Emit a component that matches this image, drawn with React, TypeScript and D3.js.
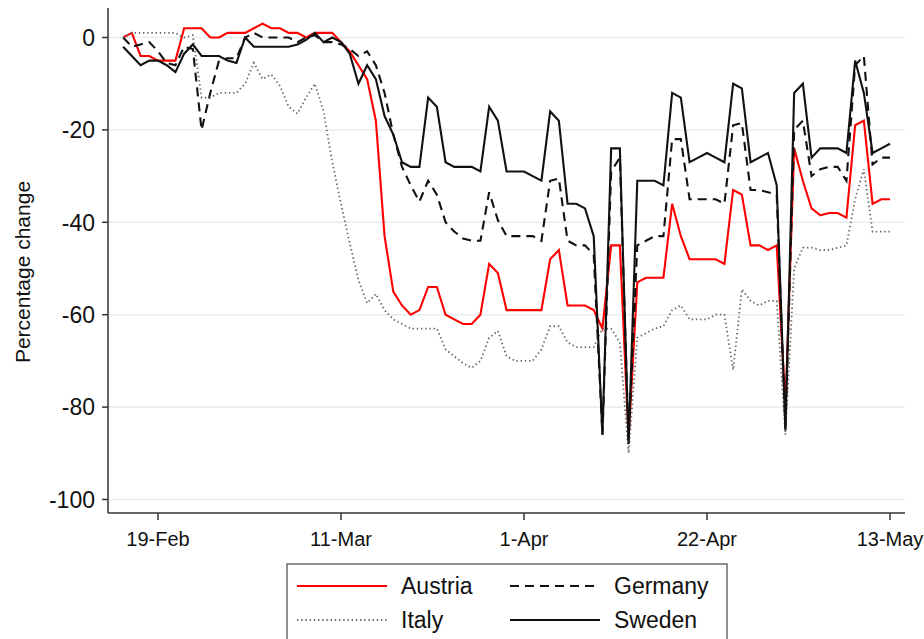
import React from "react";
import * as d3 from "d3";

// Daily dates 15-Feb-2020 .. 13-May-2020
const startDate = new Date(Date.UTC(2020, 1, 15));
const endDate = new Date(Date.UTC(2020, 4, 14));
const dates: Date[] = d3.utcDay.range(startDate, endDate);

const austria = [
  0, 1, -4, -4, -5, -5, -5, 2, 2, 2, 0, 0, 1, 1, 1, 2, 3, 2, 2, 1, 1, 0, 1, 1, 1,
  -1, -3, -6, -9, -18, -43, -55, -58, -60, -59, -54, -54, -60, -61, -62, -62, -60, -49, -51, -59,
  -59, -59, -59, -59, -48, -46, -58, -58, -58, -59, -63, -45, -45, -87, -53, -52, -52, -52, -36, -43,
  -48, -48, -48, -48, -49, -33, -34, -45, -45, -46, -45, -80, -24, -31, -37, -38.5, -38, -38, -39, -19,
  -18, -36, -35, -35,
];
const germany = [
  0, -2, -1.5, -1, -3, -5.5, -6, -2, -2.5, -20, -12, -5, -4.5, -4.5, 0, 1, 0, 0, 0, 0, -1, 0, 0.5, -1, -1,
  -1.5, -2.5, -4, -3, -6, -12, -21, -28, -32, -35.5, -31, -34, -40, -42, -43.5, -44, -44, -33.5, -39.5, -43,
  -43, -43, -43, -44, -31, -30.5, -44, -45, -45, -47, -86, -29, -26, -87, -45, -44, -43, -43, -22, -22,
  -35, -35, -35, -35, -36, -19, -18.5, -33, -33, -33.5, -34, -85, -20, -18, -30, -28.5, -28, -28, -31, -6,
  -4, -27.5, -26, -26,
];
const italy = [
  0, 1, 1, 1, 1, 1, 1, 0, 0.5, -13, -13, -12, -12, -12, -10, -5.5, -9, -8, -10.5, -15, -16.5, -13, -10, -16, -27,
  -36, -44.5, -52.5, -57.5, -55.5, -59, -61, -62, -63, -63, -63, -63, -67.5, -69, -70.5, -71.5, -70, -65, -63.5, -69,
  -70, -70, -70, -67.5, -62.5, -62.5, -66, -67, -67, -67, -63, -63, -66, -90, -65, -64, -63, -62.5, -59, -58,
  -61, -61, -61, -60, -60, -72, -54.5, -57, -58, -57, -57, -86, -50, -45.5, -45.5, -46, -46, -45.5, -45, -35,
  -28.5, -42, -42, -42,
];
const sweden = [
  -2, -4, -6, -5, -5, -6, -7.5, -3.5, -1.5, -4, -4, -4, -5, -5.5, 0, -2, -2, -2, -2, -2, -1.5, -0.5, 1, -1, 0,
  -1, -3.5, -10, -6, -9, -17, -21, -27, -28, -28, -13, -15, -27, -28, -28, -28, -29, -15, -18, -29,
  -29, -29, -30, -31, -16, -18, -36, -36, -37, -43, -86, -24, -24, -88, -31, -31, -31, -32, -12, -13,
  -27, -26, -25, -26, -27, -10, -11, -27, -26, -25, -32, -85, -12, -10, -26, -24, -24, -24, -25, -5,
  -12, -25, -24, -23,
];

const yTicks = [0, -20, -40, -60, -80, -100];
const xTickDates = [
  new Date(Date.UTC(2020, 1, 19)),
  new Date(Date.UTC(2020, 2, 11)),
  new Date(Date.UTC(2020, 3, 1)),
  new Date(Date.UTC(2020, 3, 22)),
  new Date(Date.UTC(2020, 4, 13)),
];
const xTickLabels = ["19-Feb", "11-Mar", "1-Apr", "22-Apr", "13-May"];

const seriesNames = ["Austria", "Germany", "Italy", "Sweden"];

const FONT = "'Liberation Sans', Arial, Helvetica, sans-serif";

const styles: Record<string, { stroke: string; width: number; dash?: string }> = {
  Austria: { stroke: "#ff0000", width: 2.1 },
  Germany: { stroke: "#111", width: 2.1, dash: "9 6" },
  Italy: { stroke: "#666", width: 1.8, dash: "1.4 2.8" },
  Sweden: { stroke: "#111", width: 2.1 },
};

export default function App() {
  const x = d3
    .scaleUtc()
    .domain([xTickDates[0], xTickDates[4]])
    .range([158, 890]);
  const y = d3.scaleLinear().domain([0, -100]).range([37.5, 499.5]);

  const seriesValues: Record<string, number[]> = {
    Austria: austria,
    Germany: germany,
    Italy: italy,
    Sweden: sweden,
  };

  const line = d3
    .line<number>()
    .x((_, i) => x(dates[i]))
    .y((v) => y(v));

  const axisX0 = 108;
  const axisX1 = 905;
  const axisYBottom = 513;
  const axisYTop = 8;

  return (
    <svg
      width={924}
      height={639}
      style={{ position: "absolute", left: 0, top: 0, background: "#fff" }}
      fontFamily={FONT}
    >
      <rect x={0} y={0} width={924} height={639} fill="#fff" />
      {yTicks.map((t) => (
        <line
          key={"g" + t}
          x1={axisX0}
          x2={axisX1}
          y1={y(t)}
          y2={y(t)}
          stroke="#e6edf1"
          strokeWidth={1.5}
        />
      ))}
      {seriesNames.map((n) => {
        const s = styles[n];
        return (
          <path
            key={n}
            d={line(seriesValues[n]) || ""}
            fill="none"
            stroke={s.stroke}
            strokeWidth={s.width}
            strokeDasharray={s.dash}
            strokeLinejoin="miter"
            strokeMiterlimit={4}
          />
        );
      })}
      <line x1={axisX0} x2={axisX0} y1={axisYTop} y2={axisYBottom} stroke="#333" strokeWidth={1.5} />
      {yTicks.map((t) => (
        <g key={"yt" + t}>
          <line x1={axisX0 - 6} x2={axisX0} y1={y(t)} y2={y(t)} stroke="#333" strokeWidth={1.5} />
          <text x={95} y={y(t)} dy="0.36em" textAnchor="end" fontSize={23} fill="#111">
            {t}
          </text>
        </g>
      ))}
      <text
        transform={`translate(30,272) rotate(-90)`}
        textAnchor="middle"
        fontSize={21}
        fill="#111"
      >
        Percentage change
      </text>
      <line x1={axisX0} x2={axisX1} y1={axisYBottom} y2={axisYBottom} stroke="#333" strokeWidth={1.5} />
      {xTickDates.map((d, i) => (
        <g key={"xt" + i}>
          <line x1={x(d)} x2={x(d)} y1={axisYBottom} y2={axisYBottom + 7} stroke="#333" strokeWidth={1.5} />
          <text x={x(d)} y={546} textAnchor="middle" fontSize={20} fill="#111">
            {xTickLabels[i]}
          </text>
        </g>
      ))}
      <rect x={287} y={564} width={440} height={100} fill="#fff" stroke="#444" strokeWidth={1.2} />
      {[
        { n: "Austria", lx: 297, tx: 401, ly: 586 },
        { n: "Germany", lx: 510, tx: 614, ly: 586 },
        { n: "Italy", lx: 297, tx: 401, ly: 620 },
        { n: "Sweden", lx: 510, tx: 614, ly: 620 },
      ].map((e) => {
        const s = styles[e.n];
        return (
          <g key={"lg" + e.n}>
            <line
              x1={e.lx}
              x2={e.lx + 90}
              y1={e.ly}
              y2={e.ly}
              stroke={s.stroke}
              strokeWidth={s.width}
              strokeDasharray={s.dash}
            />
            <text x={e.tx} y={e.ly} dy="0.36em" fontSize={23} fill="#111">
              {e.n}
            </text>
          </g>
        );
      })}
    </svg>
  );
}
